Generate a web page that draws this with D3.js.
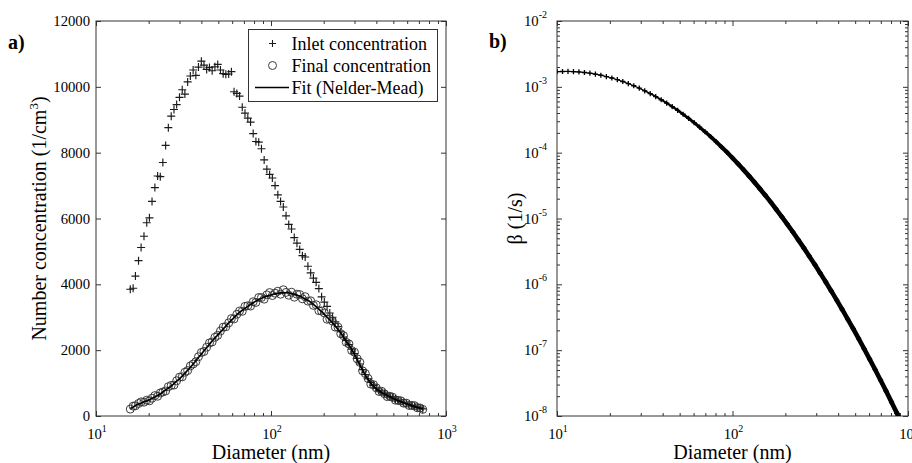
<!DOCTYPE html>
<html>
<head>
<meta charset="utf-8">
<script src="https://cdn.jsdelivr.net/npm/d3@7"></script>
<style>
  body { margin: 0; background: #fff; }
  svg { display: block; }
  text { font-family: "Liberation Serif", "Times New Roman", serif; fill: #000; }
</style>
</head>
<body>
<svg id="chart" width="912" height="463"></svg>
<script>
// ---- Panel a): size distributions (nm, 1/cm^3) ----
const diameters = [
  15.7, 16.3, 16.8, 17.5, 18.1, 18.8, 19.5, 20.2, 20.9, 21.7,
  22.5, 23.3, 24.1, 25.0, 25.9, 26.9, 27.9, 28.9, 30.0, 31.1,
  32.2, 33.4, 34.6, 35.9, 37.2, 38.5, 40.0, 41.4, 42.9, 44.5,
  46.1, 47.8, 49.6, 51.4, 53.3, 55.2, 57.3, 59.4, 61.5, 63.8,
  66.1, 68.5, 71.0, 73.7, 76.4, 79.1, 82.0, 85.1, 88.2, 91.4,
  94.7, 98.2, 101.8, 105.5, 109.4, 113.4, 117.6, 121.9, 126.3, 131.0,
  135.8, 140.7, 145.9, 151.2, 156.8, 162.5, 168.5, 174.7, 181.1, 187.7,
  194.6, 201.7, 209.1, 216.7, 224.7, 232.9, 241.4, 250.3, 259.5, 269.0,
  278.8, 289.0, 299.6, 310.6, 322.0, 333.8, 346.0, 358.7, 371.8, 385.4,
  399.5, 414.2, 429.4, 445.1, 461.4, 478.3, 495.8, 514.0, 532.8, 552.3,
  572.5, 593.5, 615.3, 637.8, 661.2, 685.4, 710.5, 736.5
];

const inletConc = [
  3850, 3880, 4250, 4720, 5120, 5460, 5870, 6020, 6520, 6940,
  7290, 7270, 7700, 8220, 8760, 9110, 9310, 9460, 9680, 9910,
  9780, 10150, 10330, 10510, 10350, 10600, 10780, 10660, 10530, 10590,
  10490, 10610, 10680, 10510, 10400, 10380, 10390, 10460, 9850, 9800,
  9720, 9380, 9200, 9050, 8930, 8580, 8340, 8320, 8120, 7780,
  7500, 7340, 7230, 7000, 6720, 6520, 6350, 6080, 5820, 5680,
  5420, 5250, 5060, 4870, 4830, 4550, 4350, 4190, 4060, 3870,
  3620, 3460, 3330, 3130, 3000, 2860, 2720, 2560, 2400, 2290,
  2170, 2030, 1900, 1750, 1580, 1410, 1260, 1130, 1020, 930,
  850, 780, 725, 680, 635, 590, 555, 515, 475, 440,
  410, 380, 350, 322, 292, 268, 245, 215
];

const finalConc = [
  210, 300, 310, 380, 430, 420, 480, 460, 540, 620,
  600, 700, 730, 760, 890, 930, 940, 1070, 1180, 1190,
  1330, 1380, 1520, 1580, 1650, 1800, 1930, 1960, 2090, 2220,
  2250, 2390, 2450, 2580, 2700, 2710, 2830, 2960, 2950, 3090,
  3190, 3180, 3330, 3350, 3340, 3470, 3450, 3600, 3600, 3550,
  3680, 3750, 3660, 3730, 3790, 3700, 3835, 3755, 3670, 3760,
  3610, 3700, 3690, 3560, 3625, 3490, 3500, 3360, 3380, 3200,
  3190, 3130, 2940, 2950, 2880, 2700, 2700, 2500, 2440, 2240,
  2190, 1990, 1940, 1740, 1630, 1370, 1290, 1140, 970, 950,
  855, 745, 750, 675, 590, 600, 570, 480, 475, 460,
  390, 390, 320, 320, 315, 250, 245, 200
];

const fitConc = [
  230, 270, 320, 360, 390, 430, 460, 490, 530, 580,
  620, 670, 730, 790, 850, 910, 980, 1060, 1130, 1210,
  1300, 1390, 1480, 1580, 1680, 1780, 1880, 1980, 2080, 2180,
  2280, 2370, 2460, 2550, 2640, 2730, 2820, 2910, 2990, 3070,
  3150, 3210, 3270, 3330, 3390, 3440, 3490, 3540, 3580, 3610,
  3640, 3670, 3690, 3710, 3730, 3740, 3745, 3745, 3740, 3720,
  3700, 3670, 3640, 3600, 3555, 3510, 3460, 3390, 3320, 3250,
  3170, 3090, 3000, 2920, 2830, 2730, 2630, 2520, 2400, 2280,
  2160, 2020, 1880, 1720, 1550, 1390, 1240, 1110, 1000, 910,
  835, 765, 710, 665, 620, 580, 540, 500, 465, 430,
  400, 370, 340, 310, 285, 260, 235, 210
];

// ---- Panel b): loss coefficient beta (1/s) ----
const betaDiameters = [
  10.00, 10.75, 11.55, 12.41, 13.34, 14.33, 15.40, 16.55, 17.78, 19.11,
  20.54, 22.07, 23.71, 25.48, 27.38, 29.43, 31.62, 33.98, 36.52, 39.24,
  42.17, 45.32, 48.70, 52.33, 56.23, 60.43, 64.94, 69.78, 74.99, 80.58,
  86.60, 93.06, 100.0, 107.5, 115.5, 124.1, 133.4, 143.3, 154.0, 165.5,
  177.8, 191.1, 205.4, 220.7, 237.1, 254.8, 273.8, 294.3, 316.2, 339.8,
  365.2, 392.4, 421.7, 453.2, 487.0, 523.3, 562.3, 604.3, 649.4, 697.8,
  749.9, 805.8, 866.0, 930.6
];

const betaValues = [
  1.70e-3, 1.711e-3, 1.713e-3, 1.703e-3, 1.682e-3, 1.651e-3, 1.610e-3, 1.559e-3, 1.500e-3, 1.434e-3,
  1.362e-3, 1.285e-3, 1.205e-3, 1.122e-3, 1.038e-3, 9.54e-4, 8.71e-4, 7.90e-4, 7.12e-4, 6.37e-4,
  5.67e-4, 5.01e-4, 4.40e-4, 3.83e-4, 3.32e-4, 2.86e-4, 2.44e-4, 2.08e-4, 1.75e-4, 1.47e-4,
  1.22e-4, 1.012e-4, 8.32e-5, 6.79e-5, 5.51e-5, 4.44e-5, 3.56e-5, 2.83e-5, 2.24e-5, 1.754e-5,
  1.369e-5, 1.060e-5, 8.16e-6, 6.24e-6, 4.74e-6, 3.58e-6, 2.68e-6, 2.00e-6, 1.479e-6, 1.087e-6,
  7.94e-7, 5.76e-7, 4.15e-7, 2.97e-7, 2.12e-7, 1.496e-7, 1.050e-7, 7.32e-8, 5.08e-8, 3.50e-8,
  2.39e-8, 1.624e-8, 1.096e-8, 7.35e-9
];

// ---- Tick values ----
const concTicks = [0, 2000, 4000, 6000, 8000, 10000, 12000];
const diamTicks = [10, 100, 1000];
const betaTicks = [1e-8, 1e-7, 1e-6, 1e-5, 1e-4, 1e-3, 1e-2];

const legendLabels = ["Inlet concentration", "Final concentration", "Fit (Nelder-Mead)"];

const svg = d3.select("#chart");
const AXIS_COLOR = "#333";
const TICK_FONT = 14.7;
const SUP_FONT = 10;

const boxA = { left: 96, right: 446, top: 21, bottom: 416 };
const boxB = { left: 557, right: 908, top: 21, bottom: 416 };

const xA = d3.scaleLog().domain([10, 1000]).range([boxA.left, boxA.right]);
const yA = d3.scaleLinear().domain([0, 12000]).range([boxA.bottom, boxA.top]);
const xB = d3.scaleLog().domain([10, 1000]).range([boxB.left, boxB.right]);
const yB = d3.scaleLog().domain([1e-8, 1e-2]).range([boxB.bottom, boxB.top]);

const isPow10 = v => Math.abs(Math.log10(v) - Math.round(Math.log10(v))) < 1e-9;

// Inward ticks on all four sides of a box
function drawTicks(box, xs, ys, xMajor, xMinor, yMajor, yMinor) {
  const g = svg.append("g");
  const add = (axis, tx, ty) => {
    const a = g.append("g").attr("transform", `translate(${tx},${ty})`).call(axis);
    a.select(".domain").remove();
    a.selectAll("line").attr("stroke", AXIS_COLOR).attr("stroke-width", 1);
    a.selectAll("text").remove();
  };
  const maj = 5, mn = 3;
  add(d3.axisBottom(xs).tickValues(xMajor).tickSize(-maj).tickFormat(""), 0, box.bottom);
  add(d3.axisTop(xs).tickValues(xMajor).tickSize(-maj).tickFormat(""), 0, box.top);
  if (xMinor.length) {
    add(d3.axisBottom(xs).tickValues(xMinor).tickSize(-mn).tickFormat(""), 0, box.bottom);
    add(d3.axisTop(xs).tickValues(xMinor).tickSize(-mn).tickFormat(""), 0, box.top);
  }
  add(d3.axisLeft(ys).tickValues(yMajor).tickSize(-maj).tickFormat(""), box.left, 0);
  add(d3.axisRight(ys).tickValues(yMajor).tickSize(-maj).tickFormat(""), box.right, 0);
  if (yMinor.length) {
    add(d3.axisLeft(ys).tickValues(yMinor).tickSize(-mn).tickFormat(""), box.left, 0);
    add(d3.axisRight(ys).tickValues(yMinor).tickSize(-mn).tickFormat(""), box.right, 0);
  }
  g.append("rect")
    .attr("x", box.left).attr("y", box.top)
    .attr("width", box.right - box.left).attr("height", box.bottom - box.top)
    .attr("fill", "none").attr("stroke", AXIS_COLOR).attr("stroke-width", 1);
}

// "10" with a raised exponent
function powerLabel(sel, v, rise) {
  const e = Math.round(Math.log10(v));
  sel.append("tspan").text("10");
  sel.append("tspan").attr("dy", -rise).attr("font-size", SUP_FONT).text(e);
}

const diamMinor = xA.ticks().filter(v => !isPow10(v));
const betaMinor = yB.ticks().filter(v => !isPow10(v));
const markerPlus = h => `M${-h},0H${h}M0,${-h}V${h}`;

// ================= Panel a) =================
drawTicks(boxA, xA, yA, diamTicks, diamMinor, concTicks, []);

svg.append("g").selectAll("text").data(concTicks).join("text")
  .attr("x", boxA.left - 6).attr("y", d => yA(d))
  .attr("text-anchor", "end").attr("dominant-baseline", "central")
  .attr("font-size", TICK_FONT).text(d => d);

svg.append("g").selectAll("text").data(diamTicks).join("text")
  .attr("x", d => xA(d) + 1).attr("y", boxA.bottom + 23)
  .attr("text-anchor", "middle").attr("font-size", TICK_FONT)
  .each(function (d) { powerLabel(d3.select(this), d, 7); });

// Inlet concentration (+)
svg.append("g").selectAll("path").data(diameters.map((d, i) => [d, inletConc[i]])).join("path")
  .attr("transform", d => `translate(${xA(d[0])},${yA(d[1])})`)
  .attr("d", markerPlus(4))
  .attr("stroke", "#1a1a1a").attr("stroke-width", 1.15).attr("fill", "none");

// Final concentration (o)
svg.append("g").selectAll("circle").data(diameters.map((d, i) => [d, finalConc[i]])).join("circle")
  .attr("cx", d => xA(d[0])).attr("cy", d => yA(d[1])).attr("r", 4)
  .attr("fill", "none").attr("stroke", "#333").attr("stroke-width", 0.95);

// Fitted distribution
svg.append("path")
  .datum(diameters.map((d, i) => [d, fitConc[i]]))
  .attr("fill", "none").attr("stroke", "#000").attr("stroke-width", 1.7)
  .attr("d", d3.line().x(d => xA(d[0])).y(d => yA(d[1])).curve(d3.curveMonotoneX));

// Legend
const leg = svg.append("g");
leg.append("rect").attr("x", 248.5).attr("y", 29.5).attr("width", 189).attr("height", 72)
  .attr("fill", "#fff").attr("stroke", AXIS_COLOR).attr("stroke-width", 1);
const rowY = [43.5, 65.5, 87.5];
leg.append("path").attr("transform", `translate(272.5,${rowY[0]})`).attr("d", markerPlus(3.5))
  .attr("stroke", "#1a1a1a").attr("stroke-width", 1.1);
leg.append("circle").attr("cx", 272.5).attr("cy", rowY[1]).attr("r", 4)
  .attr("fill", "none").attr("stroke", "#333").attr("stroke-width", 0.95);
leg.append("line").attr("x1", 255).attr("x2", 289).attr("y1", rowY[2]).attr("y2", rowY[2])
  .attr("stroke", "#000").attr("stroke-width", 1.7);
leg.selectAll("text.lg").data(legendLabels).join("text").attr("class", "lg")
  .attr("x", 291.5).attr("y", (d, i) => rowY[i] + 6.5)
  .attr("font-size", 18).text(d => d);

// Axis titles
svg.append("text").attr("x", (boxA.left + boxA.right) / 2).attr("y", 459)
  .attr("text-anchor", "middle").attr("font-size", 20).text("Diameter (nm)");
const ylA = svg.append("text")
  .attr("transform", `translate(46,${(boxA.top + boxA.bottom) / 2}) rotate(-90)`)
  .attr("text-anchor", "middle").attr("font-size", 20);
ylA.append("tspan").text("Number concentration (1/cm");
ylA.append("tspan").attr("dy", -8).attr("font-size", 13).text("3");
ylA.append("tspan").attr("dy", 8).text(")");

svg.append("text").attr("x", 8).attr("y", 49).attr("font-size", 20)
  .attr("font-weight", "bold").text("a)");

// ================= Panel b) =================
drawTicks(boxB, xB, yB, diamTicks, diamMinor, betaTicks, betaMinor);

svg.append("g").selectAll("text").data(betaTicks).join("text")
  .attr("x", boxB.left - 10).attr("y", d => yB(d) + 5)
  .attr("text-anchor", "end").attr("font-size", TICK_FONT)
  .each(function (d) { powerLabel(d3.select(this), d, 8); });

svg.append("g").selectAll("text").data(diamTicks).join("text")
  .attr("x", d => xB(d) + 1).attr("y", boxB.bottom + 23)
  .attr("text-anchor", "middle").attr("font-size", TICK_FONT)
  .each(function (d) { powerLabel(d3.select(this), d, 7); });

svg.append("clipPath").attr("id", "clipB").append("rect")
  .attr("x", boxB.left).attr("y", boxB.top)
  .attr("width", boxB.right - boxB.left).attr("height", boxB.bottom - boxB.top);

const betaPts = betaDiameters.map((d, i) => [d, betaValues[i]]);
const gB = svg.append("g").attr("clip-path", "url(#clipB)");

// Closely packed markers merge into a heavier trace as the curve steepens
const traceWidth = d3.scaleLinear()
  .domain([Math.log10(28), Math.log10(110)]).range([1.1, 4.6]).clamp(true);
gB.selectAll("line.seg").data(d3.pairs(betaPts)).join("line").attr("class", "seg")
  .attr("x1", d => xB(d[0][0])).attr("y1", d => yB(d[0][1]))
  .attr("x2", d => xB(d[1][0])).attr("y2", d => yB(d[1][1]))
  .attr("stroke", "#000").attr("stroke-linecap", "round")
  .attr("stroke-width", d => traceWidth(Math.log10(Math.sqrt(d[0][0] * d[1][0]))));
gB.selectAll("path.pt").data(betaPts).join("path").attr("class", "pt")
  .attr("transform", d => `translate(${xB(d[0])},${yB(d[1])})`)
  .attr("d", markerPlus(2.6))
  .attr("stroke", "#000").attr("stroke-width", 1.3).attr("fill", "none");

svg.append("text").attr("x", (boxB.left + boxB.right) / 2).attr("y", 459)
  .attr("text-anchor", "middle").attr("font-size", 20).text("Diameter (nm)");
svg.append("text")
  .attr("transform", `translate(522,${(boxB.top + boxB.bottom) / 2}) rotate(-90)`)
  .attr("text-anchor", "middle").attr("font-size", 20).text("β (1/s)");

svg.append("text").attr("x", 489).attr("y", 48).attr("font-size", 20)
  .attr("font-weight", "bold").text("b)");
</script>
</body>
</html>
